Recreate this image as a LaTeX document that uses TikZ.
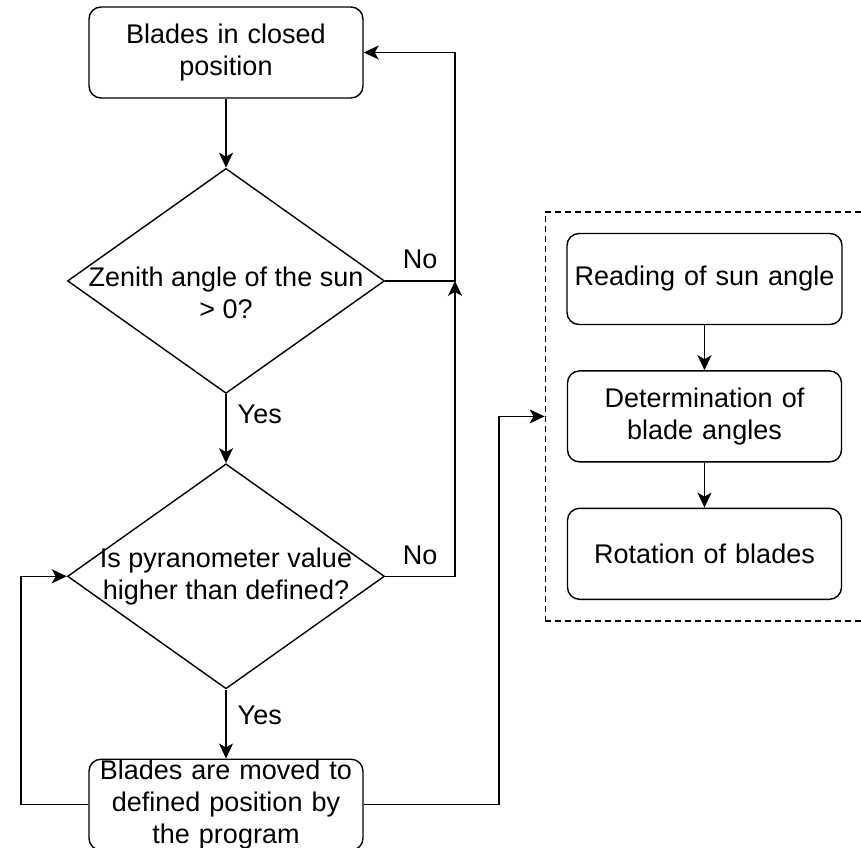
\documentclass[tikz,border=0pt]{standalone}
\usepackage{fontspec}
\setmainfont{Liberation Sans}
\usetikzlibrary{shapes.geometric, arrows.meta, positioning, fit}

\begin{document}
\begin{tikzpicture}[
    x=1pt, y=-1pt,
    node distance=69pt,
    font=\fontsize{27pt}{32pt}\selectfont,
    line width=1.4pt,
    block/.style={rectangle, draw, rounded corners=12pt, text width=266pt, align=center, minimum width=274pt, minimum height=91pt, inner xsep=4pt, inner ysep=0pt},
    decision/.style={diamond, draw, minimum width=317pt, minimum height=225pt, inner sep=0pt},
    answer/.style={inner sep=3pt},
    arrow/.style={-{Stealth[length=15pt, width=14pt, inset=4pt]}},
    group/.style={draw, dash pattern=on 6pt off 4pt, inner sep=21pt}
]
    \useasboundingbox (0,0) rectangle (861,847);

    % main loop
    \node[block] (closed) at (226,52.5) {Blades in closed\\position};
    \node[decision, below=of closed, label={[align=center, yshift=-12pt]center:Zenith angle of the sun\\> 0?}] (zenith) {};
    \node[decision, below=of zenith, label={[align=center]center:Is pyranometer value\\higher than defined?}] (pyran) {};
    \node[block, below=of pyran] (moved) {Blades are moved to\\defined position by\\the program};

    % program steps
    \node[block, minimum width=275pt] (reading) at (704.5,279) {Reading of sun angle};
    \node[block, below=45pt of reading] (angles) {Determination of\\blade angles};
    \node[block, below=45pt of angles] (rotation) {Rotation of blades};
    \node[group, fit=(reading)(rotation)] (sensing) {};

    \coordinate (noline) at (455,0);
    \coordinate (loopline) at (21,0);
    \coordinate (outline) at (499,0);

    \draw[arrow] (closed) -- (zenith);
    \draw[arrow] (zenith) -- node[answer, pos=0.3, anchor=west, xshift=8pt] {Yes} (pyran);
    \draw[arrow] (pyran) -- node[answer, pos=0.38, anchor=west, xshift=8pt] {Yes} (moved);
    \draw[arrow] (zenith.east) -- node[answer, above=8pt] {No} (zenith.east -| noline) |- (closed.east);
    \draw[arrow] (pyran.east) -- node[answer, above=8pt] {No} (pyran.east -| noline) -- (zenith.east -| noline);
    \draw[arrow] (moved.west) -- (moved.west -| loopline) |- (pyran.west);
    \draw[arrow] (moved.east) -- (moved.east -| outline) |- (sensing.west);

    \draw[arrow] (reading) -- (angles);
    \draw[arrow] (angles) -- (rotation);
\end{tikzpicture}
\end{document}
